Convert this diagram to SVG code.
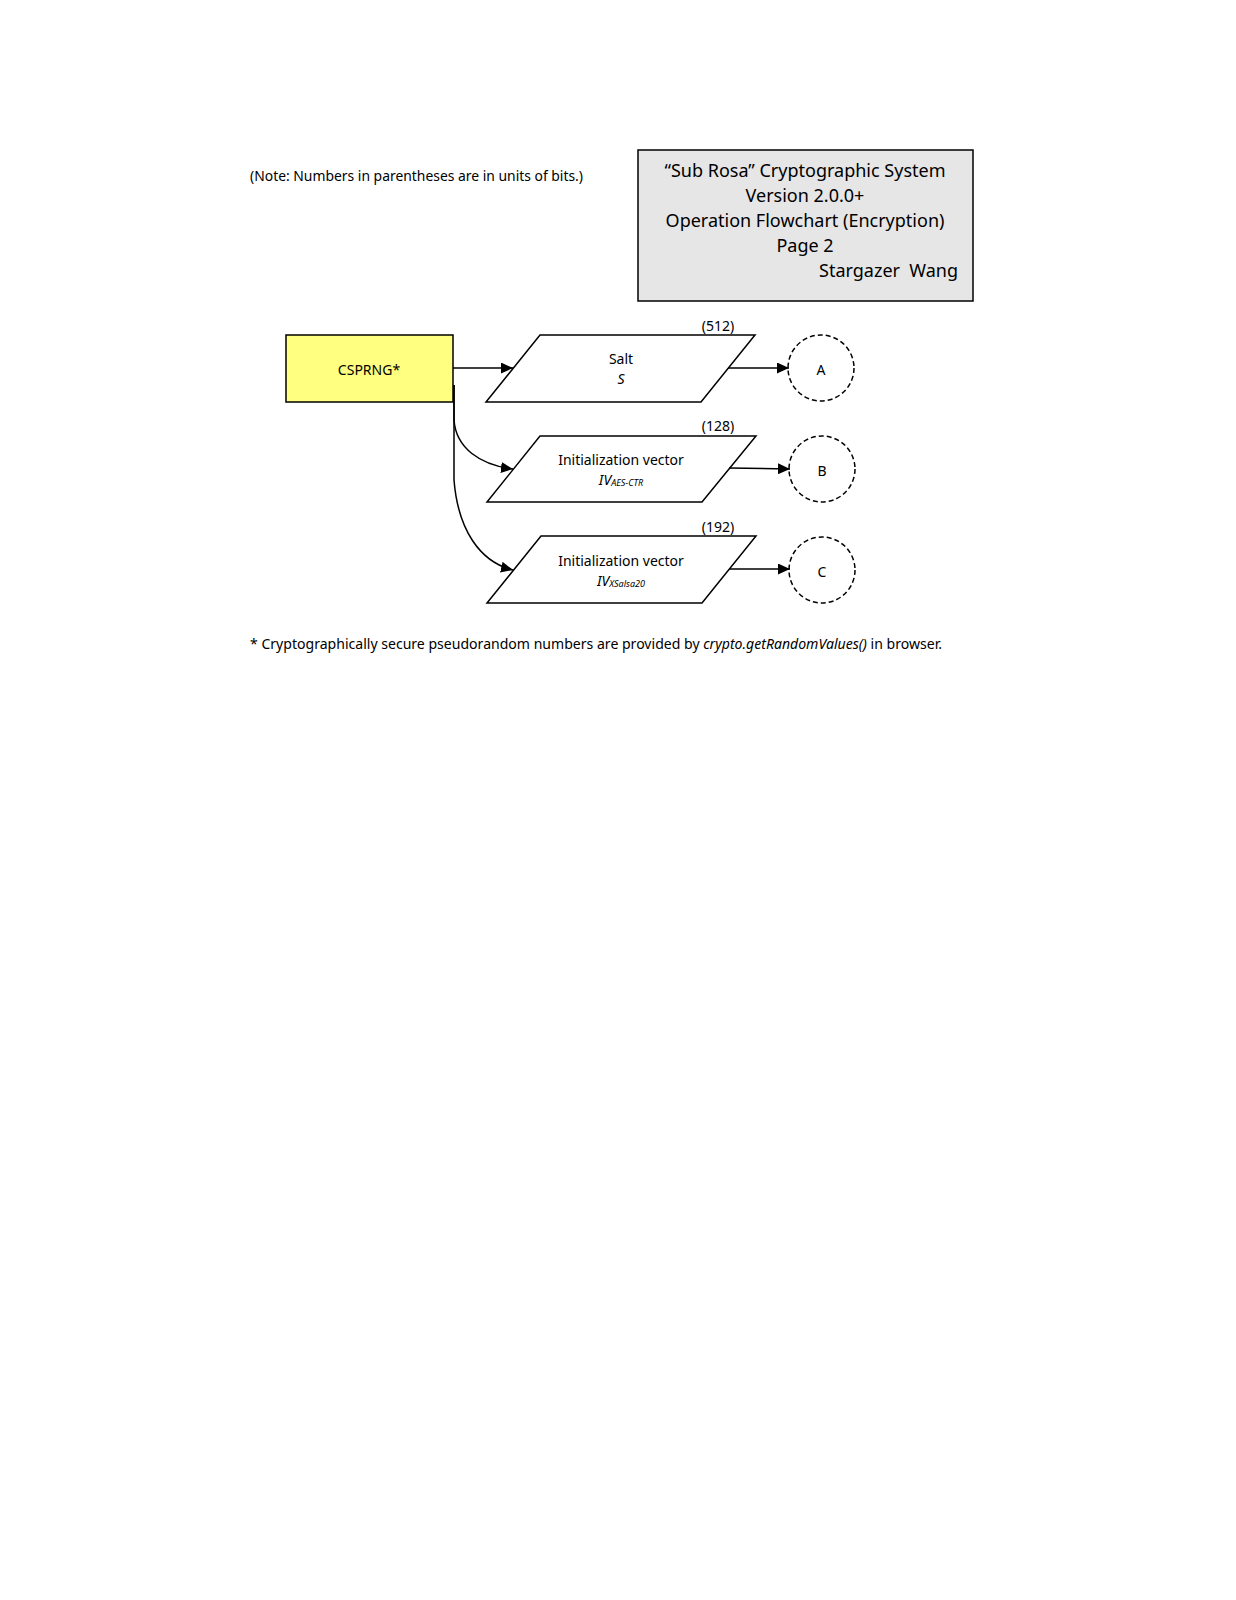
<svg xmlns="http://www.w3.org/2000/svg" width="1236" height="1600" viewBox="0 0 1236 1600">
<style>
  text { font-family: "Noto Sans", "Open Sans", "DejaVu Sans", sans-serif; fill: #000; }
  .sm { font-size: 14px; }
  .lbl { font-size: 14px; text-anchor: middle; }
  .ttl { font-size: 18px; text-anchor: middle; }
  .box { stroke: #000; stroke-width: 1.5; }
  .para { fill: #fff; stroke: #000; stroke-width: 1.5; }
  .conn { fill: #fff; stroke: #000; stroke-width: 1.5; stroke-dasharray: 5 3; }
  .edge { fill: none; stroke: #000; stroke-width: 1.5; }
  .it { font-style: italic; }
  .sub { font-size: 9px; font-style: italic; }
</style>
<defs>
  <marker id="arr" viewBox="0 0 10 10" refX="10" refY="5" markerWidth="12" markerHeight="11" markerUnits="userSpaceOnUse" orient="auto" preserveAspectRatio="none">
    <path d="M0,0 L10,5 L0,10 z" fill="#000"/>
  </marker>
</defs>
<rect width="1236" height="1600" fill="#fff"/>

<text class="sm" x="250" y="181" textLength="333" lengthAdjust="spacingAndGlyphs">(Note: Numbers in parentheses are in units of bits.)</text>

<g id="title">
  <rect x="638" y="150" width="335" height="151" fill="#e6e6e6" class="box"/>
  <text class="ttl" x="805" y="177">“Sub Rosa” Cryptographic System</text>
  <text class="ttl" x="805" y="202">Version 2.0.0+</text>
  <text class="ttl" x="805" y="227">Operation Flowchart (Encryption)</text>
  <text class="ttl" x="805" y="252">Page 2</text>
  <text class="ttl" x="958" y="277" style="text-anchor:end" xml:space="preserve">Stargazer  Wang</text>
</g>

<g id="csprng">
  <rect x="286" y="335" width="167" height="67" fill="#ffff80" class="box"/>
  <text class="lbl" x="369" y="375">CSPRNG*</text>
</g>

<g id="salt">
  <polygon class="para" points="540,335 755,335 701,402 486,402"/>
  <text class="lbl" x="621" y="364">Salt</text>
  <text class="lbl it" x="621" y="384">S</text>
  <text class="lbl" x="718" y="331">(512)</text>
</g>

<g id="iv-aes">
  <polygon class="para" points="540,436 756,436 702,502 487,502"/>
  <text class="lbl" x="621" y="465">Initialization vector</text>
  <text class="lbl" x="621" y="485"><tspan class="it">IV</tspan><tspan class="sub" dy="1">AES-CTR</tspan></text>
  <text class="lbl" x="718" y="431">(128)</text>
</g>

<g id="iv-xsalsa">
  <polygon class="para" points="541,536 756,536 702,603 487,603"/>
  <text class="lbl" x="621" y="566">Initialization vector</text>
  <text class="lbl" x="621" y="586"><tspan class="it">IV</tspan><tspan class="sub" dy="1">XSalsa20</tspan></text>
  <text class="lbl" x="718" y="532">(192)</text>
</g>

<g id="A">
  <circle class="conn" cx="821" cy="368" r="33"/>
  <text class="lbl" x="821" y="375">A</text>
</g>
<g id="B">
  <circle class="conn" cx="822" cy="469" r="33"/>
  <text class="lbl" x="822" y="476">B</text>
</g>
<g id="C">
  <circle class="conn" cx="822" cy="570" r="33"/>
  <text class="lbl" x="822" y="577">C</text>
</g>

<g id="connectors">
  <path class="edge" d="M453,368 L513,368" marker-end="url(#arr)"/>
  <path class="edge" d="M454,385 L454,420 C456,448 480,465 513,469" marker-end="url(#arr)"/>
  <path class="edge" d="M454,385 L454,480 C458,530 480,562 513,570" marker-end="url(#arr)"/>
  <path class="edge" d="M728,368 L789,368" marker-end="url(#arr)"/>
  <path class="edge" d="M729,468 L790,469" marker-end="url(#arr)"/>
  <path class="edge" d="M729,569 L790,569" marker-end="url(#arr)"/>
</g>

<text class="sm" x="250" y="649" textLength="692" lengthAdjust="spacingAndGlyphs">* Cryptographically secure pseudorandom numbers are provided by <tspan class="it">crypto.getRandomValues()</tspan> in browser.</text>
</svg>
